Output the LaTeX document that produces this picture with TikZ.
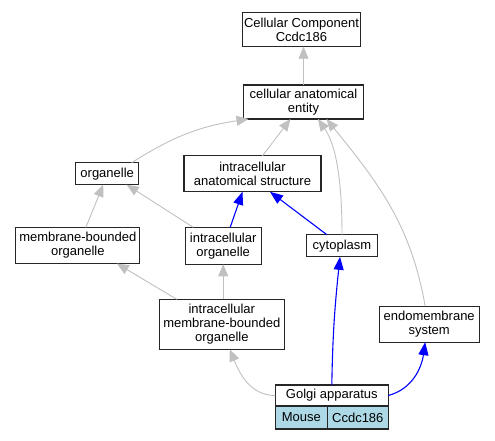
\documentclass[tikz,border=0pt]{standalone}
\usepackage{fontspec}
\setmainfont{Liberation Sans}
\usetikzlibrary{positioning, arrows.meta}
\definecolor{lightblue}{RGB}{173,216,230}
\definecolor{edgegray}{RGB}{192,192,192}

\begin{document}
\begin{tikzpicture}[
    x=1pt, y=1pt,
    font=\fontsize{13}{13.8}\selectfont,
    term/.style={rectangle, draw=black!85, line width=1.2pt, align=center, inner sep=0pt, outer sep=0pt},
    cell/.style={term, fill=lightblue, minimum height=23pt},
    isa/.style={-{Triangle[length=12pt, width=10pt]}, draw=edgegray, line width=0.9pt},
    partof/.style={-{Triangle[length=13pt, width=10pt]}, draw=blue, line width=1.1pt}
]
\useasboundingbox (0,0) rectangle (495,-440);

% Terms
\node[term, minimum width=118pt, minimum height=34pt] (cc) at (301.5,-29.7) {Cellular Component\\Ccdc186};
\node[term, minimum width=120pt, minimum height=34pt] (ent) at (303.5,-102) {cellular anatomical\\entity};
\node[term, minimum width=63pt, minimum height=22pt] (org) at (107.2,-173.7) {organelle};
\node[term, minimum width=137pt, minimum height=36pt] (ias) at (252.5,-173.8) {intracellular\\anatomical structure};
\node[term, minimum width=124pt, minimum height=36pt] (mbo) at (77.8,-245.5) {membrane-bounded\\organelle};
\node[term, minimum width=76pt, minimum height=37pt] (io) at (223.2,-245.8) {intracellular\\organelle};
\node[term, minimum width=71pt, minimum height=22pt] (cyto) at (342,-245.8) {cytoplasm};
\node[term, minimum width=125pt, minimum height=50pt] (imbo) at (221.8,-324.3) {intracellular\\membrane-bounded\\organelle};
\node[term, minimum width=100pt, minimum height=36pt] (endo) at (429.2,-324.2) {endomembrane\\system};

% Annotated gene
\node[term, minimum width=113pt, minimum height=21pt] (golgi) at (331.8,-395.5) {Golgi apparatus};
\node[cell, minimum width=52pt, below right=0pt of golgi.south west] (mouse) {Mouse};
\node[cell, minimum width=61pt, right=0pt of mouse] (gene) {Ccdc186};

% is_a
\draw[isa] (ent.north) -- (ent.north |- cc.south);
\draw[isa] ([xshift=-7pt]org.north east) to[bend left=12] ([xshift=5pt]ent.south west);
\draw[isa] ([xshift=10pt]ias.north) -- ([xshift=-13pt]ent.south);
\draw[isa] (cyto.north) .. controls +(0,55) and +(18,-26) .. ([xshift=14.5pt]ent.south);
\draw[isa] ([xshift=-4pt]endo.north) to[out=100, in=-51] ([xshift=23pt]ent.south);
\draw[isa] ([xshift=8pt]mbo.north) -- ([xshift=-4pt]org.south);
\draw[isa] ([xshift=-30pt]io.north) -- ([xshift=19.5pt]org.south);
\draw[isa] ([xshift=-45pt]imbo.north) -- ([xshift=39pt]mbo.south);
\draw[isa] ([xshift=1.4pt]imbo.north) -- (io.south);
\draw[isa] (golgi.west) to[out=180, in=-68] ([xshift=8pt]imbo.south);

% part_of
\draw[partof] ([xshift=7pt]io.north) -- ([xshift=-10pt]ias.south);
\draw[partof] ([xshift=-15pt]cyto.north) -- ([xshift=17.5pt]ias.south);
\draw[partof] (golgi.north) to[out=89, in=-96] ([xshift=-2pt]cyto.south);
\draw[partof] (golgi.east) to[out=15, in=-98] ([xshift=-4pt]endo.south);

\end{tikzpicture}
\end{document}
